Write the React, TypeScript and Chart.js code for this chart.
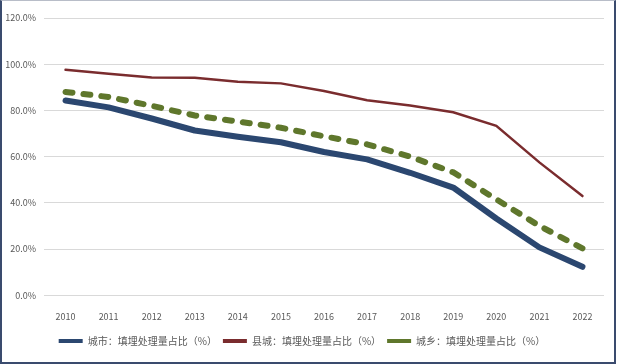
import React, { useEffect, useRef } from "react";
import { Chart, registerables } from "chart.js";

Chart.register(...registerables);

const years = ["2010", "2011", "2012", "2013", "2014", "2015", "2016", "2017", "2018", "2019", "2020", "2021", "2022"];
const cityValues = [84.3, 81.3, 76.5, 71.3, 68.6, 66.2, 62.0, 58.8, 53.0, 46.6, 33.2, 20.7, 12.3];
const countyValues = [97.6, 95.9, 94.2, 94.1, 92.4, 91.7, 88.4, 84.4, 82.1, 79.2, 73.3, 57.5, 42.9];
const ruralValues = [88.0, 85.8, 82.0, 77.8, 75.2, 72.5, 68.8, 65.3, 60.0, 53.2, 41.5, 30.0, 20.3];
const seriesLabels = ["城市：填埋处理量占比（%）", "县城：填埋处理量占比（%）", "城乡：填埋处理量占比（%）"];
const yTicks = [0, 20, 40, 60, 80, 100, 120];

const FONT = "'Noto Sans CJK SC', 'Noto Sans', sans-serif";

export default function App() {
  const canvasRef = useRef<HTMLCanvasElement | null>(null);

  useEffect(() => {
    document.body.style.margin = "0";
    const ctx = canvasRef.current!;
    const chart = new Chart(ctx, {
      type: "line",
      data: {
        labels: years,
        datasets: [
          {
            label: seriesLabels[0],
            data: cityValues,
            borderColor: "#2B4770",
            backgroundColor: "#2B4770",
            borderWidth: 6,
            borderCapStyle: "round",
            borderJoinStyle: "round",
            pointRadius: 0,
            tension: 0,
          },
          {
            label: seriesLabels[1],
            data: countyValues,
            borderColor: "#7A2C2E",
            backgroundColor: "#7A2C2E",
            borderWidth: 2.5,
            borderCapStyle: "round",
            pointRadius: 0,
            tension: 0,
          },
          {
            label: seriesLabels[2],
            data: ruralValues,
            borderColor: "#5F772C",
            backgroundColor: "#5F772C",
            borderWidth: 6,
            borderDash: [7, 11],
            borderCapStyle: "round",
            pointRadius: 0,
            tension: 0,
          },
        ],
      },
      options: {
        responsive: false,
        animation: false,
        devicePixelRatio: 1,
        layout: { padding: { left: 0, right: 9, top: 18, bottom: 6 } },
        plugins: {
          tooltip: { enabled: false },
          legend: {
            position: "bottom",
            labels: {
              boxWidth: 24,
              boxHeight: 4,
              color: "#595959",
              font: { family: FONT, size: 10 },
              padding: 6,
              generateLabels: (c: any) =>
                c.data.datasets.map((ds: any, i: number) => ({
                  text: ds.label,
                  fillStyle: ds.borderColor,
                  strokeStyle: ds.borderColor,
                  lineWidth: 0,
                  lineDash: [],
                  hidden: !c.isDatasetVisible(i),
                  datasetIndex: i,
                  fontColor: "#595959",
                })),
            },
          },
        },
        scales: {
          x: {
            offset: true,
            grid: { display: false },
            border: { display: false },
            ticks: { color: "#595959", font: { family: FONT, size: 9 }, padding: 8, maxRotation: 0 },
          },
          y: {
            min: 0,
            max: 120,
            afterFit: (scale: any) => {
              scale.width = 44;
            },
            afterBuildTicks: (scale: any) => {
              scale.ticks = yTicks.map((v) => ({ value: v }));
            },
            grid: { color: "#D9D9D9", lineWidth: 1, drawTicks: false },
            border: { display: false },
            ticks: {
              color: "#595959",
              font: { family: FONT, size: 9 },
              padding: 8,
              callback: (v: any) => Number(v).toFixed(1) + "%",
            },
          },
        },
      },
    });
    return () => chart.destroy();
  }, []);

  return (
    <div style={{ position: "relative", width: 617, height: 364, background: "#fff" }}>
      <canvas ref={canvasRef} width={613} height={362} style={{ position: "absolute", left: 0, top: 0 }} />
      <div
        style={{
          position: "absolute",
          left: 0,
          top: 0,
          width: 612,
          height: 361,
          borderLeft: "2px solid #3A4B6E",
          borderRight: "2px solid #3A4B6E",
          borderBottom: "2px solid #3A4B6E",
          borderTop: "1px solid #B8BDC8",
          pointerEvents: "none",
        }}
      />
    </div>
  );
}
